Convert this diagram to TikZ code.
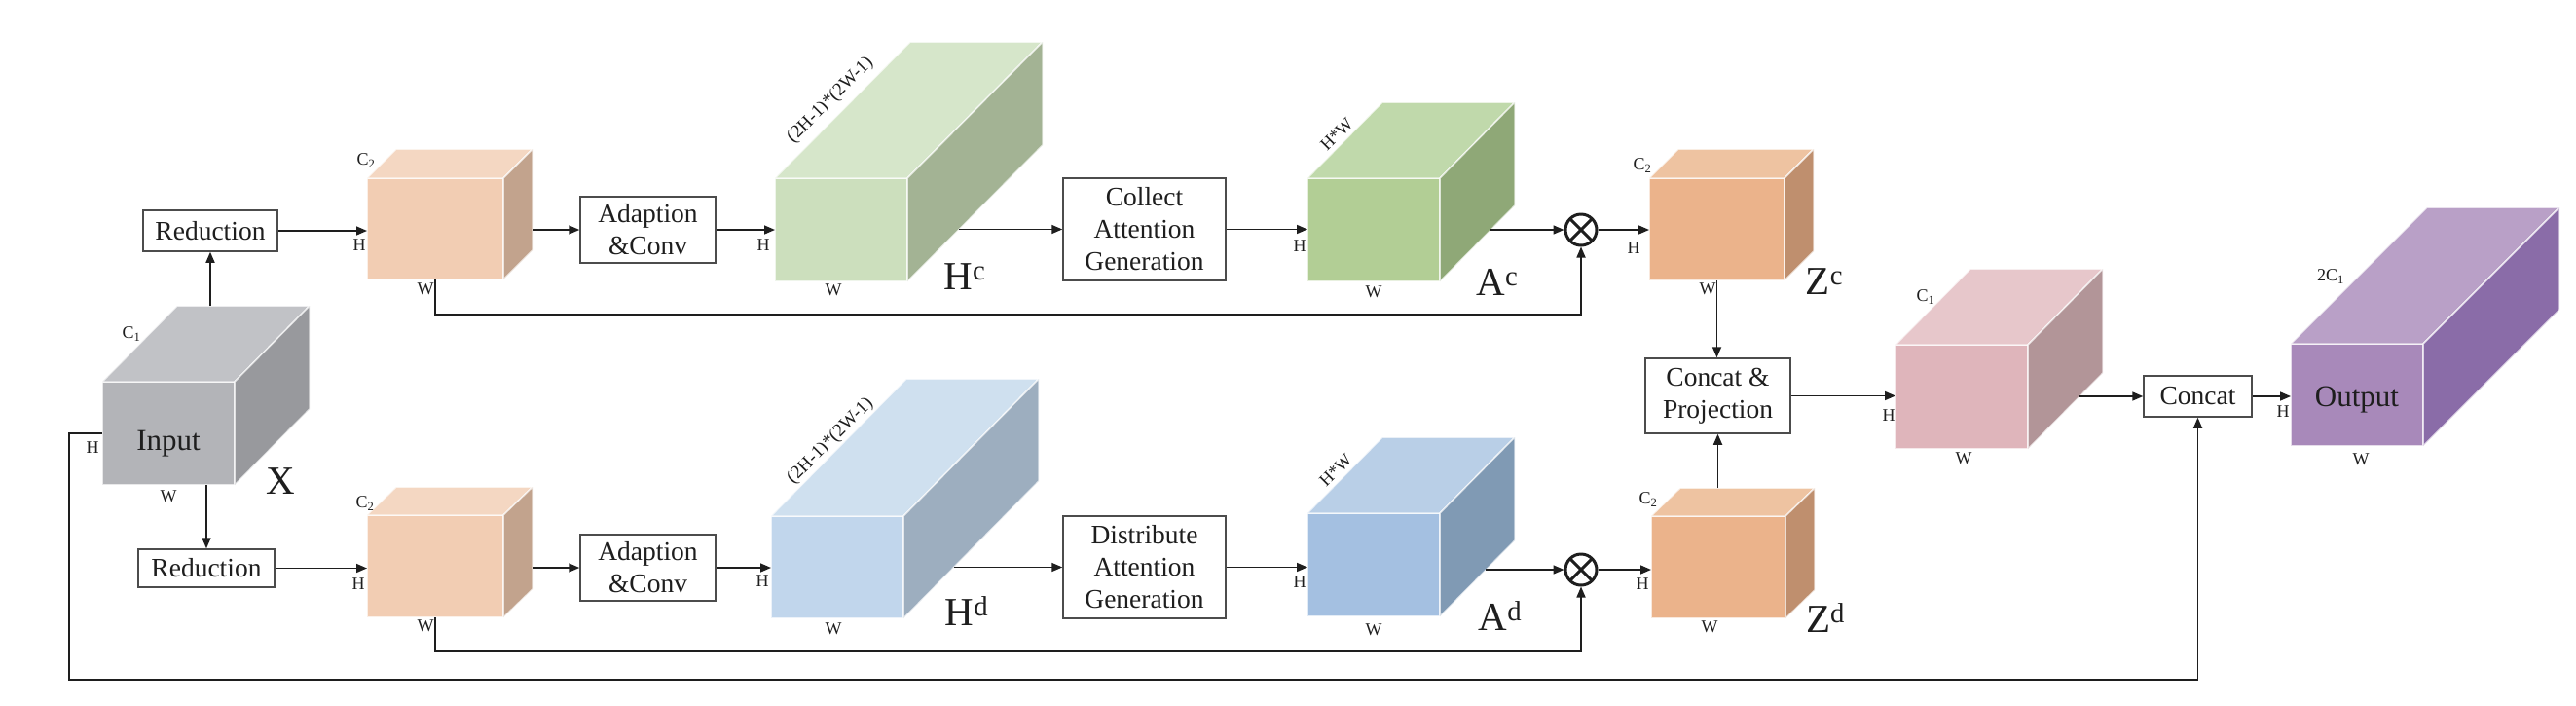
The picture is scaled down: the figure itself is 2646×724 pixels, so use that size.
\documentclass[tikz,border=0pt]{standalone}
\usepackage{fontspec}
\setmainfont{Liberation Serif}
\usetikzlibrary{arrows.meta,calc}
\definecolor{grF}{HTML}{B3B4B8}\definecolor{grT}{HTML}{C1C2C6}\definecolor{grS}{HTML}{98999D}
\definecolor{orF}{HTML}{F2CDB3}\definecolor{orT}{HTML}{F4D7C2}\definecolor{orS}{HTML}{C2A38D}
\definecolor{glF}{HTML}{CCDFBD}\definecolor{glT}{HTML}{D6E6CA}\definecolor{glS}{HTML}{A3B394}
\definecolor{gdF}{HTML}{B2CE95}\definecolor{gdT}{HTML}{C0D9AB}\definecolor{gdS}{HTML}{8FA877}
\definecolor{blF}{HTML}{C1D6EC}\definecolor{blT}{HTML}{CFE0EF}\definecolor{blS}{HTML}{9DAEBF}
\definecolor{bdF}{HTML}{A4C0E1}\definecolor{bdT}{HTML}{B9CFE7}\definecolor{bdS}{HTML}{809AB4}
\definecolor{zoF}{HTML}{EBB38B}\definecolor{zoT}{HTML}{EEC3A1}\definecolor{zoS}{HTML}{BF8F6E}
\definecolor{pkF}{HTML}{DFB5BB}\definecolor{pkT}{HTML}{E7C7CB}\definecolor{pkS}{HTML}{B29598}
\definecolor{puF}{HTML}{A889BA}\definecolor{puT}{HTML}{B9A0C7}\definecolor{puS}{HTML}{8A6CA8}
\definecolor{ink}{HTML}{1E1E1E}
\tikzset{
 arr/.style={-{Triangle[length=11pt,width=9pt]}, line width=1.6pt, draw=ink},
 box/.style={draw=black!70, line width=1.5pt, fill=white, inner sep=0pt, align=center,
   font=\fontsize{27.5}{33}\selectfont, text=ink},
 cubeface/.style={draw=white, draw opacity=0.7, line width=1.5pt, inner sep=0pt, outer sep=0pt},
 cubeedge/.style={draw=white, draw opacity=0.7, line width=1.5pt, line join=round},
 lbl/.style={font=\fontsize{18}{18}\selectfont, inner sep=0pt, text=ink},
 rlbl/.style={font=\fontsize{19}{19}\selectfont, inner sep=0pt, text=ink, rotate=45},
 big/.style={font=\fontsize{41}{41}\selectfont, inner sep=0pt, anchor=base, text=ink},
 inner/.style={font=\fontsize{31}{31}\selectfont, inner sep=0pt, anchor=base, text=ink},
 ox/.style={circle, draw=ink, line width=3pt, minimum size=32pt, inner sep=0pt, fill=white,
   path picture={\draw[line width=3pt, ink]
     (path picture bounding box.north west) -- (path picture bounding box.south east)
     (path picture bounding box.north east) -- (path picture bounding box.south west);}}
}
% name, x, y (front top-left), w, h, dx, dy, colour prefix
\newcommand{\blockcube}[8]{%
  \node[cubeface, fill=#8F, minimum width=#4pt, minimum height=#5pt, anchor=north west] (#1) at (#2,#3) {};
  \filldraw[cubeedge, fill=#8T] (#1.north west) -- ++(#6,-#7) -- ++(#4,0) -- (#1.north east) -- cycle;
  \filldraw[cubeedge, fill=#8S] (#1.north east) -- ++(#6,-#7) -- ++(0,#5) -- (#1.south east) -- cycle;
  \coordinate (#1-b) at ($(#1.north west)+(#6,-#7)$);
  \coordinate (#1-br) at ($(#1.north east)+(#6,-#7)$);
}
% arrow from lower edge of a cube's side face to a target
\newcommand{\sidearrow}[3]{%
  \draw[arr] let \p1=(#1.south east), \p2=(#2) in ({\x1+(\y2-\y1)*#3},\y2) -- (#2);
}
\begin{document}
\begin{tikzpicture}[x=1pt,y=-1pt]
\useasboundingbox (0,0) rectangle (2646,724);
\fill[white] (0,0) rectangle (2646,724);

% cubes
\blockcube{cxin}{105}{392}{136}{106}{77}{78}{gr}
\blockcube{cxoa}{377}{183}{140}{104}{30}{30}{or}
\blockcube{cxhc}{796}{183}{136}{106}{139}{140}{gl}
\blockcube{cxac}{1343}{183}{136}{106}{77}{78}{gd}
\blockcube{cxzc}{1694}{183}{139}{105}{30}{30}{zo}
\blockcube{cxob}{377}{529}{140}{105}{30}{29}{or}
\blockcube{cxhd}{792}{530}{136}{105}{139}{141}{bl}
\blockcube{cxad}{1343}{527}{136}{106}{77}{78}{bd}
\blockcube{cxzd}{1696}{530}{138}{105}{30}{29}{zo}
\blockcube{cxpk}{1947}{354}{136}{107}{77}{78}{pk}
\blockcube{cxout}{2353}{353}{136}{105}{140}{140}{pu}

% boxes
\node[box, minimum width=138pt, minimum height=42pt] (red1) at (216,237) {Reduction};
\node[box, minimum width=140pt, minimum height=39pt] (red2) at (212,583.5) {Reduction};
\node[box, minimum width=139pt, minimum height=68pt] (ad1) at (665.5,236) {Adaption\\\&Conv};
\node[box, minimum width=139pt, minimum height=68pt] (ad2) at (665.5,583) {Adaption\\\&Conv};
\node[box, minimum width=167pt, minimum height=105pt] (col) at (1175.5,235.5) {Collect\\Attention\\Generation};
\node[box, minimum width=167pt, minimum height=105pt] (dis) at (1175.5,582.5) {Distribute\\Attention\\Generation};
\node[box, minimum width=149pt, minimum height=77pt] (cp) at (1764.5,406.5) {Concat \&\\Projection};
\node[box, minimum width=111pt, minimum height=42pt] (cat) at (2257.5,407) {Concat};

% otimes
\node[ox] (ot1) at (1624,236) {};
\node[ox] (ot2) at (1624,585) {};

% connectors
\draw[arr] (red1.south |- cxin-b) -- (red1.south);
\draw[arr] (red2.north |- cxin.south) -- (red2.north);
\draw[arr] (red1.east) -- (red1.east -| cxoa.west);
\draw[arr] (red2.east) -- (red2.east -| cxob.west);
\draw[arr] (cxoa-br |- ad1.west) -- (ad1.west);
\draw[arr] (cxob-br |- ad2.west) -- (ad2.west);
\draw[arr] (ad1.east) -- (ad1.east -| cxhc.west);
\draw[arr] (ad2.east) -- (ad2.east -| cxhd.west);
\sidearrow{cxhc}{col.west}{0.993}
\sidearrow{cxhd}{dis.west}{0.986}
\draw[arr] (col.east) -- (col.east -| cxac.west);
\draw[arr] (dis.east) -- (dis.east -| cxad.west);
\sidearrow{cxac}{ot1.west}{0.987}
\sidearrow{cxad}{ot2.west}{0.987}
\draw[arr] (ot1.east) -- (ot1.east -| cxzc.west);
\draw[arr] (ot2.east) -- (ot2.east -| cxzd.west);
\draw[arr] (cxoa.south) -- ++(0,36) -| (ot1.south);
\draw[arr] (cxob.south) -- ++(0,35) -| (ot2.south);
\draw[arr] (cxzc.south) -- (cxzc.south |- cp.north);
\draw[arr] (cp.south |- cxzd-b) -- (cp.south);
\draw[arr] (cp.east) -- (cp.east -| cxpk.west);
\sidearrow{cxpk}{cat.west}{0.987}
\draw[arr] (cat.east) -- (cat.east -| cxout.west);
\coordinate (skip) at (71,698);
\draw[arr] (cxin.west) -| (skip) -| (cat.south);

% texts inside cubes
\node[inner] (tin) at (173,462) {Input};
\node[inner] (tout) at (2421,417) {Output};

% big labels
\node[big] (lx) at (288,507) {X};
\node[big] (lhc) at (991,297) {H\textsuperscript{c}};
\node[big] (lac) at (1538,303) {A\textsuperscript{c}};
\node[big] (lzc) at (1874,302) {Z\textsuperscript{c}};
\node[big] (lhd) at (993,642) {H\textsuperscript{d}};
\node[big] (lad) at (1541,647) {A\textsuperscript{d}};
\node[big] (lzd) at (1875,649) {Z\textsuperscript{d}};

% small labels
\node[lbl] (c1a) at (135,343) {C\textsubscript{1}};
\node[lbl] (h0) at (95,460) {H};
\node[lbl] (w0) at (173,510) {W};
\node[lbl] (c2a) at (376,165) {C\textsubscript{2}};
\node[lbl] (h1) at (369,252) {H};
\node[lbl] (w1) at (437,297) {W};
\node[lbl] (h2) at (784,252) {H};
\node[lbl] (w2) at (856,298) {W};
\node[rlbl] (r1) at (853,103) {(2H-1)*(2W-1)};
\node[lbl] (h3) at (1335,253) {H};
\node[lbl] (w3) at (1411,300) {W};
\node[rlbl, font=\fontsize{18}{18}\selectfont] (r2) at (1373,138) {H*W};
\node[lbl] (c2b) at (1687,170) {C\textsubscript{2}};
\node[lbl] (h4) at (1678,255) {H};
\node[lbl] (w4) at (1754,297) {W};
\node[lbl] (c2c) at (375,517) {C\textsubscript{2}};
\node[lbl] (h5) at (368,600) {H};
\node[lbl] (w5) at (437,643) {W};
\node[lbl] (h6) at (783,597) {H};
\node[lbl] (w6) at (856,646) {W};
\node[rlbl] (r3) at (853,453) {(2H-1)*(2W-1)};
\node[lbl] (h7) at (1335,598) {H};
\node[lbl] (w7) at (1411,647) {W};
\node[rlbl, font=\fontsize{18}{18}\selectfont] (r4) at (1372,483) {H*W};
\node[lbl] (c2d) at (1693,513) {C\textsubscript{2}};
\node[lbl] (h8) at (1687,600) {H};
\node[lbl] (w8) at (1756,644) {W};
\node[lbl] (c1b) at (1978,305) {C\textsubscript{1}};
\node[lbl] (h9) at (1940,427) {H};
\node[lbl] (w9) at (2017,471) {W};
\node[lbl] (c1c) at (2394,284) {2C\textsubscript{1}};
\node[lbl] (h10) at (2345,423) {H};
\node[lbl] (w10) at (2425,472) {W};
\end{tikzpicture}
\end{document}
